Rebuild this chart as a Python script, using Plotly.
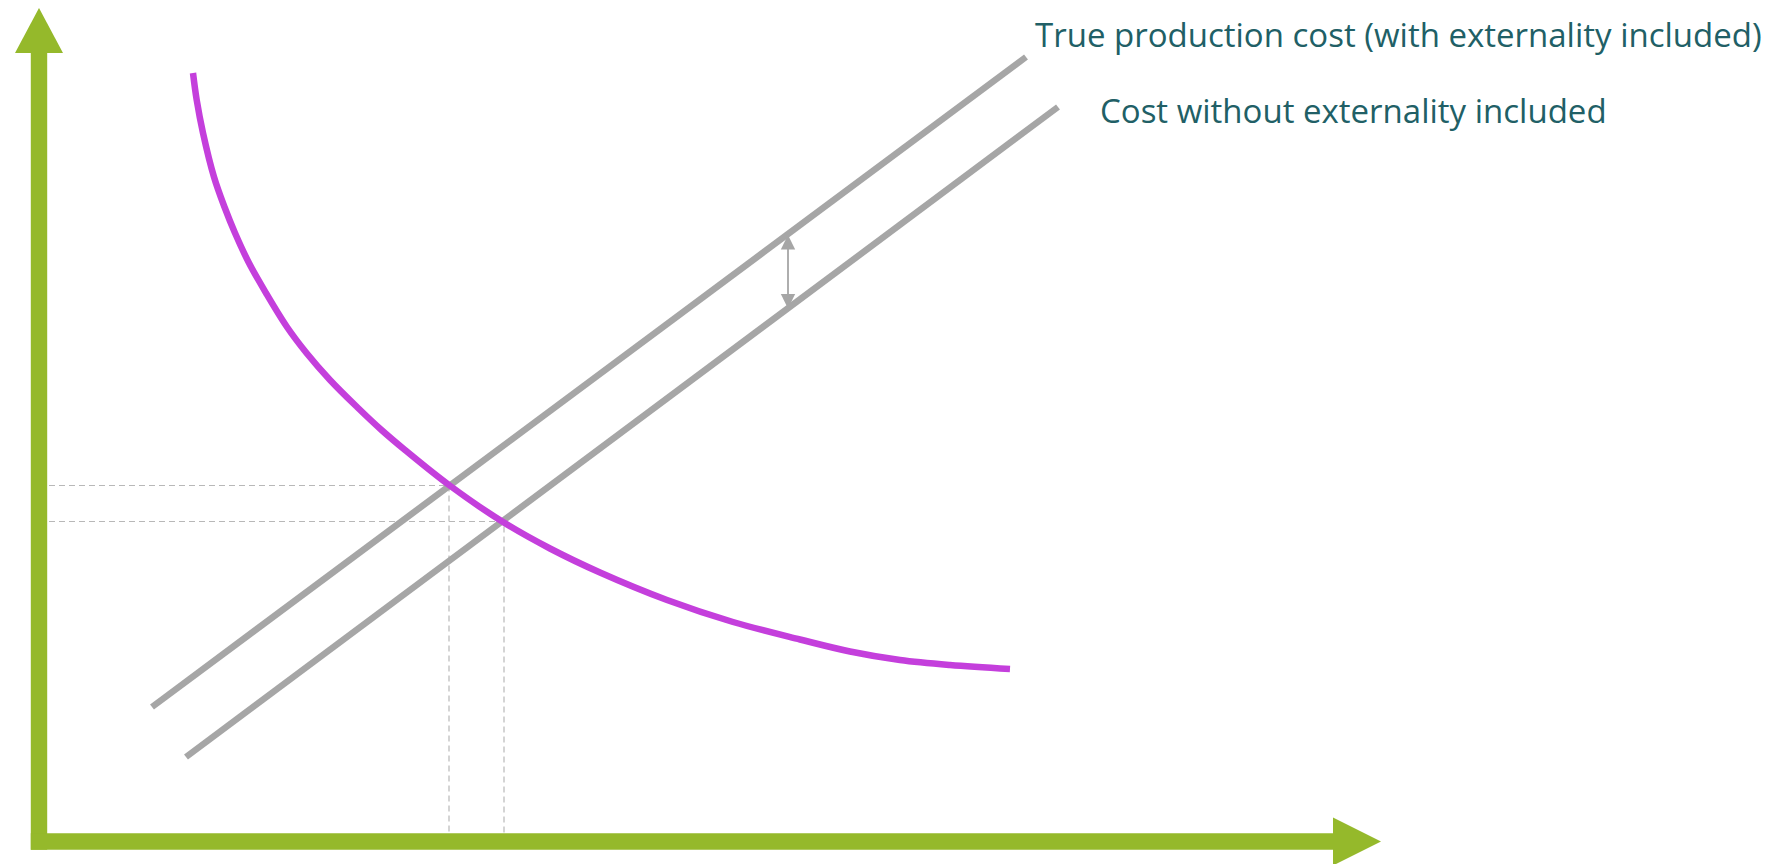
import plotly.graph_objects as go

# ---- data (quantity, price units; origin at the axes corner) ----
demand_q = [15.4, 15.77, 16.4, 17.5, 18.55, 19.6, 21.0, 22.7, 24.8, 26.75, 29.1, 31.8, 34.25,
            36.6, 41.0, 46.4, 51.1, 56.1, 62.8, 69.4, 76.1, 81.1, 86.1, 91.1, 97.1]
demand_p = [76.85, 74.15, 70.85, 66.45, 63.45, 60.85, 57.85, 54.85, 51.45, 48.85, 46.15, 43.45, 41.15,
            39.15, 35.65, 31.95, 29.3, 26.9, 24.15, 21.95, 20.2, 19.0, 18.15, 17.65, 17.25]

true_cost_q = [11.3, 98.7]
true_cost_p = [13.45, 78.45]
private_cost_q = [14.7, 101.9]
private_cost_p = [8.45, 73.45]

equilibrium_q = [41.0, 46.5]   # with / without externality
equilibrium_p = [35.6, 32.0]

externality_q = 74.9
externality_p = [53.3, 60.8]

labels = ["True production cost (with externality included)",
          "Cost without externality included"]
label_q = [99.4, 105.9]
label_p = [80.7, 73.1]

# ---- axis extents (page has an 8px body margin) ----
X_MIN, X_MAX = -3.1, 175.1
Y_MIN, Y_MAX = -2.25, 83.35
AXIS_X_SHAFT_END = 129.4
AXIS_X_TIP = 134.2
AXIS_Y_SHAFT_END = 78.85
AXIS_Y_TIP = 83.35
SHAFT_HALF = 0.82
HEAD_HALF = 2.4
AXIS_BASE = 0.82

GREEN = "#95B92B"
PURPLE = "#C43FDC"
GRAY = "#A6A6A6"
DASH = "#B8B8B8"
TEXT = "#215F66"

fig = go.Figure()

# dashed guide lines
for q, p in zip(equilibrium_q, equilibrium_p):
    fig.add_trace(go.Scatter(x=[0, q, q], y=[p, p, AXIS_BASE], mode="lines",
                             line=dict(color=DASH, width=1.2, dash="6px,4px"),
                             hoverinfo="skip", showlegend=False))

# supply lines
fig.add_trace(go.Scatter(x=true_cost_q, y=true_cost_p, mode="lines",
                         line=dict(color=GRAY, width=6.5), showlegend=False))
fig.add_trace(go.Scatter(x=private_cost_q, y=private_cost_p, mode="lines",
                         line=dict(color=GRAY, width=6.5), showlegend=False))

# demand curve
fig.add_trace(go.Scatter(x=demand_q, y=demand_p, mode="lines",
                         line=dict(color=PURPLE, width=6.5, shape="spline", smoothing=1.0),
                         showlegend=False))

shapes = [
    dict(type="rect", xref="x", yref="y", x0=-SHAFT_HALF, x1=SHAFT_HALF,
         y0=-SHAFT_HALF, y1=AXIS_Y_SHAFT_END, fillcolor=GREEN, line=dict(width=0)),
    dict(type="rect", xref="x", yref="y", x0=-SHAFT_HALF, x1=AXIS_X_SHAFT_END,
         y0=-SHAFT_HALF, y1=SHAFT_HALF, fillcolor=GREEN, line=dict(width=0)),
    dict(type="path", xref="x", yref="y",
         path=f"M {-HEAD_HALF},{AXIS_Y_SHAFT_END} L {HEAD_HALF},{AXIS_Y_SHAFT_END} L 0,{AXIS_Y_TIP} Z",
         fillcolor=GREEN, line=dict(width=0)),
    dict(type="path", xref="x", yref="y",
         path=f"M {AXIS_X_SHAFT_END},{HEAD_HALF} L {AXIS_X_SHAFT_END},{-HEAD_HALF} L {AXIS_X_TIP},0 Z",
         fillcolor=GREEN, line=dict(width=0)),
]

annotations = [
    dict(x=externality_q, y=externality_p[0], ax=externality_q, ay=externality_p[1],
         xref="x", yref="y", axref="x", ayref="y", text="", showarrow=True,
         arrowhead=2, startarrowhead=2, arrowside="end+start", arrowsize=1.6,
         startarrowsize=1.6, arrowwidth=1.8, arrowcolor=GRAY, standoff=0, startstandoff=0),
]
for t, q, p in zip(labels, label_q, label_p):
    annotations.append(dict(x=q, y=p, xref="x", yref="y", text=t, showarrow=False,
                            xanchor="left", yanchor="middle",
                            font=dict(family="Open Sans", size=33, color=TEXT)))

fig.update_layout(
    width=1782, height=856,
    margin=dict(l=0, r=0, t=0, b=0),
    paper_bgcolor="white", plot_bgcolor="white",
    xaxis=dict(range=[X_MIN, X_MAX], visible=False, fixedrange=True),
    yaxis=dict(range=[Y_MIN, Y_MAX], visible=False, fixedrange=True),
    shapes=shapes, annotations=annotations,
    showlegend=False,
)

fig.write_html("out.html", config={"displayModeBar": False})
